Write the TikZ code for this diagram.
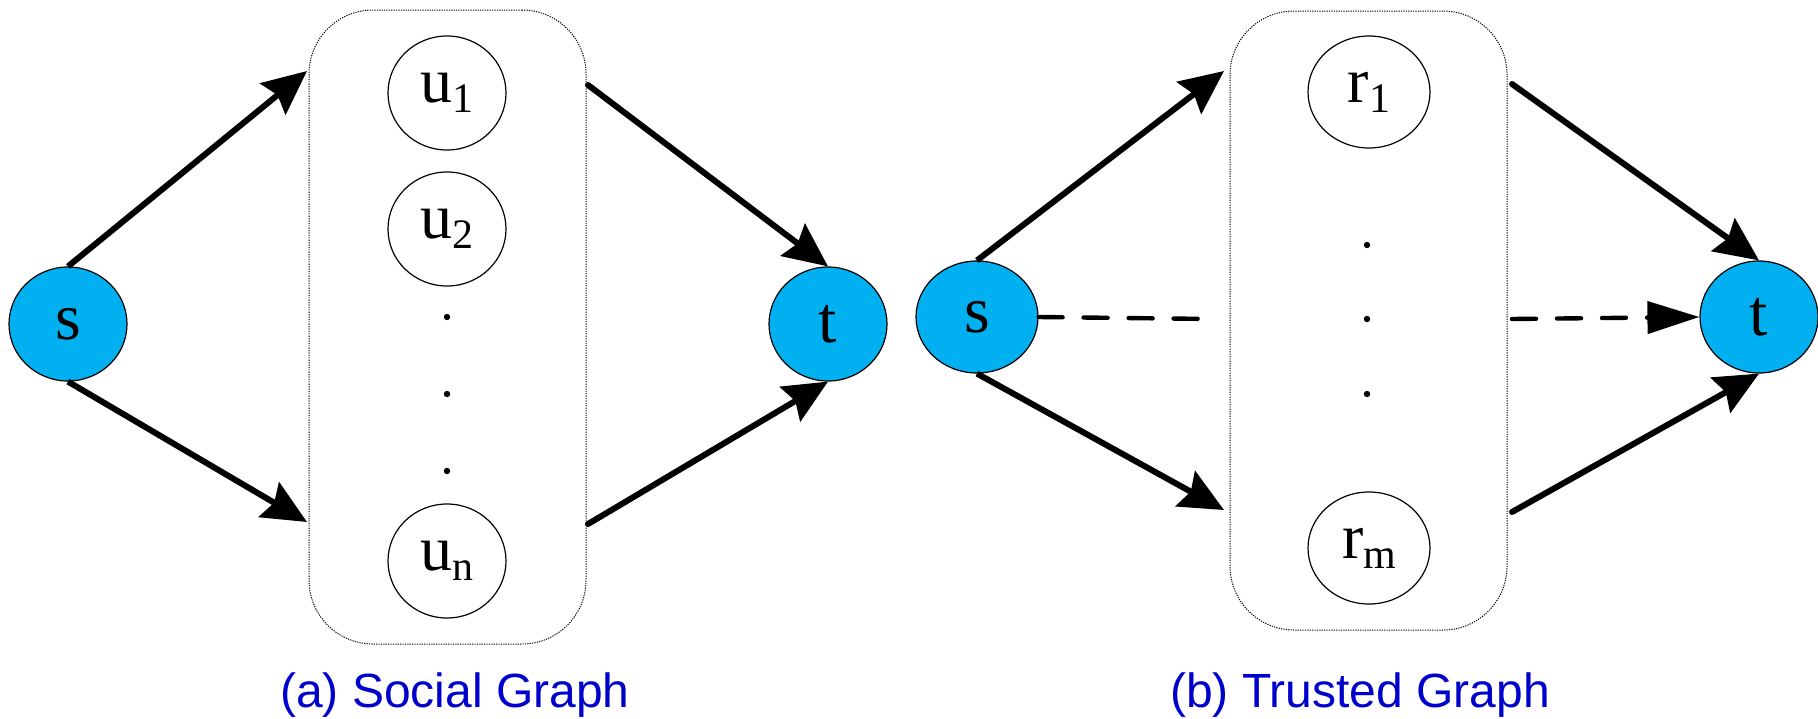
\documentclass[tikz,border=0pt]{standalone}
\usepackage{fontspec}
\setmainfont{Liberation Serif}
\newfontfamily\capfont{Liberation Sans}
\usetikzlibrary{arrows.meta,shapes.geometric}
\definecolor{nodeblue}{HTML}{00B0F0}
\definecolor{capblue}{RGB}{0,0,204}
\newcommand{\sbs}[1]{\raisebox{-5pt}{\fontsize{21pt}{23pt}\selectfont #1}}
\tikzset{
  endpt/.style={ellipse,draw=black,line width=0.6pt,fill=nodeblue,minimum width=59pt,minimum height=57pt,inner sep=0pt,font=\fontsize{33pt}{36pt}\selectfont},
  member/.style={ellipse,draw=black,line width=0.6pt,fill=white,minimum width=59pt,minimum height=57pt,inner sep=0pt,font=\fontsize{32pt}{35pt}\selectfont},
  groupbox/.style={draw=black,line width=0.5pt,dash pattern=on 0.6pt off 0.6pt,rounded corners=32pt,minimum width=138.5pt,inner sep=0pt},
  dotnode/.style={circle,fill=black,minimum size=3.2pt,inner sep=0pt},
  link/.style={line width=3pt,-{Stealth[length=22pt,width=20pt,inset=3pt]}},
  dlink/.style={line width=2.2pt,line cap=round,dash pattern=on 12pt off 10.5pt},
  darrow/.style={dlink,-{Triangle[length=26pt,width=16pt]}},
  caption/.style={text=capblue,font=\capfont\fontsize{24pt}{28pt}\selectfont,anchor=base,inner sep=0pt}
}
\begin{document}
\begin{tikzpicture}[x=0.5pt,y=-0.5pt]
\useasboundingbox (0,0) rectangle (1818,718);
% ---------------- (a) Social Graph ----------------
\node[groupbox,minimum height=317pt] (boxA) at (447.5,327) {};
\node[endpt] (sA) at (68,324) {s};
\node[endpt] (tA) at (828,324) {t};
\node[member] (u1) at (447,93) {u\sbs{1}};
\node[member] (u2) at (447,229) {u\sbs{2}};
\node[member] (un) at (447,561) {u\sbs{n}};
\node[dotnode] (da1) at (447,317) {};
\node[dotnode] (da2) at (447,394) {};
\node[dotnode] (da3) at (447,471) {};
\coordinate (aIn1) at (307,71);
\coordinate (aIn2) at (307,522);
\coordinate (aOut1) at (588,85);
\coordinate (aOut2) at (588,524);
\draw[link] (sA.north) -- (aIn1);
\draw[link] (sA.south) -- (aIn2);
\draw[link,line cap=round] (aOut1) -- (tA.north);
\draw[link,line cap=round] (aOut2) -- (tA.south);
\node[caption] (capA) at (455,707) {(a) Social Graph};
% ---------------- (b) Trusted Graph ----------------
\node[groupbox,minimum height=309.5pt] (boxB) at (1368.5,320.5) {};
\node[endpt,minimum width=61pt,minimum height=56pt] (sB) at (977,317) {s};
\node[endpt,minimum width=59pt,minimum height=56pt] (tB) at (1759,317) {t};
\node[member,minimum width=61pt,minimum height=56pt] (r1) at (1369,92) {r\sbs{1}};
\node[member,minimum width=61pt,minimum height=56pt] (rm) at (1369,548) {r\sbs{m}};
\node[dotnode] (db1) at (1367,245) {};
\node[dotnode] (db2) at (1367,319) {};
\node[dotnode] (db3) at (1367,394) {};
\coordinate (bIn1) at (1224,71);
\coordinate (bIn2) at (1224,510);
\coordinate (bIn3) at (1213,319);
\coordinate (bOut1) at (1512,84);
\coordinate (bOut2) at (1512,512);
\coordinate (bOut3) at (1512,319);
\draw[link] (sB.north) -- (bIn1);
\draw[link] (sB.south) -- (bIn2);
\draw[link,line cap=round] (bOut1) -- (tB.north);
\draw[link,line cap=round] (bOut2) -- (tB.south);
\draw[dlink] (sB.east) -- (bIn3);
\draw[darrow] (bOut3) -- (tB.west);
\node[caption] (capB) at (1360,707) {(b) Trusted Graph};
\end{tikzpicture}
\end{document}
